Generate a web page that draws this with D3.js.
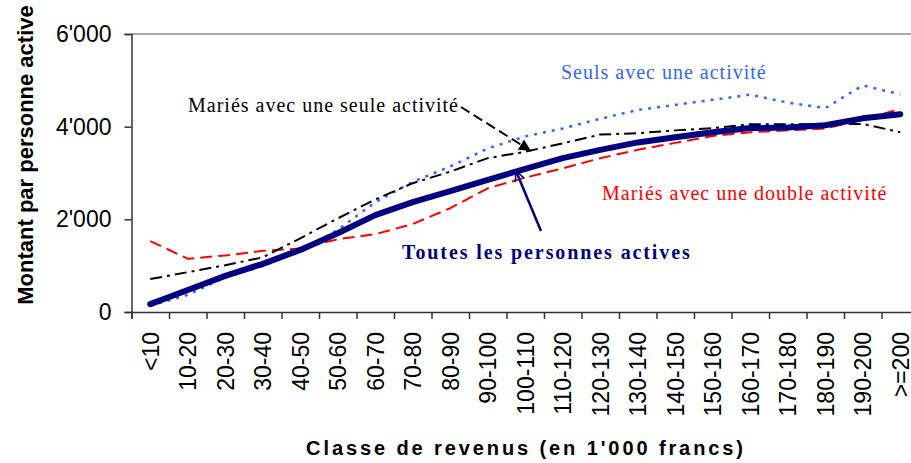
<!DOCTYPE html>
<html>
<head>
<meta charset="utf-8">
<script src="https://cdn.jsdelivr.net/npm/d3@7"></script>
<style>
  body { margin: 0; background: #fff; }
  svg { display: block; }
</style>
</head>
<body>
<svg id="chart" width="911" height="463"></svg>
<script>
// income classes (1'000 francs)
const categories = ["<10", "10-20", "20-30", "30-40", "40-50", "50-60", "60-70", "70-80", "80-90", "90-100",
    "100-110", "110-120", "120-130", "130-140", "140-150", "150-160", "160-170", "170-180", "180-190", "190-200", ">=200"];

// amounts per active person
const toutes = [170, 475, 780, 1040, 1340, 1700, 2090, 2370, 2610, 2850, 3090, 3320, 3500, 3660, 3770, 3880, 3970, 3980, 4030, 4180, 4270];
const mariesDouble = [1530, 1150, 1220, 1320, 1370, 1570, 1680, 1900, 2240, 2670, 2900, 3100, 3320, 3500, 3650, 3800, 3880, 3920, 3960, 4150, 4380];
const mariesSeule = [710, 860, 1010, 1180, 1590, 2020, 2430, 2780, 3030, 3320, 3460, 3640, 3830, 3860, 3920, 3970, 4050, 4050, 4050, 4060, 3880];
const seuls = [130, 370, 750, 990, 1320, 1770, 2370, 2810, 3140, 3530, 3790, 3960, 4170, 4360, 4470, 4580, 4690, 4520, 4400, 4890, 4700];

const yTicks = [0, 2000, 4000, 6000];

const sans = "'Liberation Sans', Arial, sans-serif";
const serif = "'Liberation Serif', 'Times New Roman', serif";

const svg = d3.select("#chart");
const plot = {left: 131.5, right: 919, top: 34, bottom: 312};

const x = d3.scaleBand().domain(categories).range([plot.left, plot.right]);
const xEdges = d3.scaleLinear().domain([0, categories.length]).range([plot.left, plot.right]);
const y = d3.scaleLinear().domain([0, 6000]).range([plot.bottom, plot.top]);

const fmt = v => d3.format(",")(v).replace(/,/g, "'");

// plot area top border
svg.append("line")
    .attr("x1", plot.left).attr("x2", plot.right)
    .attr("y1", plot.top).attr("y2", plot.top)
    .attr("stroke", "#8c8c8c").attr("stroke-width", 1.5);

// y axis
const yAxis = svg.append("g")
    .attr("transform", `translate(${plot.left},0)`)
    .call(d3.axisLeft(y).tickValues(yTicks).tickFormat(fmt).tickSize(7).tickPadding(13));
yAxis.selectAll("text")
    .style("font-family", sans).style("font-size", "23px").attr("fill", "#000");
yAxis.selectAll("line, path").attr("stroke", "#333").attr("stroke-width", 1.5);

// x axis: labels at the class centers
const xAxis = svg.append("g")
    .attr("transform", `translate(0,${plot.bottom})`)
    .call(d3.axisBottom(x).tickSize(0).tickPadding(0));
xAxis.select("path").remove();
xAxis.selectAll("text")
    .attr("transform", "rotate(-90)")
    .attr("x", -20).attr("y", 0).attr("dy", "0.36em")
    .style("text-anchor", "end")
    .style("font-family", sans).style("font-size", "23px").attr("fill", "#000");

// x axis: ticks on the class boundaries
const xTickAxis = svg.append("g")
    .attr("transform", `translate(0,${plot.bottom})`)
    .call(d3.axisBottom(xEdges).ticks(categories.length).tickSize(7).tickFormat(""));
xTickAxis.selectAll("line, path").attr("stroke", "#333").attr("stroke-width", 1.5);

// series
const line = d3.line()
    .x((d, i) => x(categories[i]) + x.bandwidth() / 2)
    .y(d => y(d));

const series = [
    {values: seuls, color: "#3366ff", width: 2.5, dash: "3,6"},
    {values: mariesDouble, color: "#ff0000", width: 2, dash: "12,6"},
    {values: mariesSeule, color: "#000000", width: 2, dash: "12,5,3,5"},
    {values: toutes, color: "#000080", width: 6, dash: null}
];

series.forEach(s => {
    svg.append("path")
        .datum(s.values)
        .attr("d", line)
        .attr("fill", "none")
        .attr("stroke", s.color)
        .attr("stroke-width", s.width)
        .attr("stroke-linejoin", "round")
        .attr("stroke-linecap", s.dash ? "butt" : "round")
        .attr("stroke-dasharray", s.dash);
});

// arrows
const defs = svg.append("defs");
defs.append("marker")
    .attr("id", "headBlack")
    .attr("viewBox", "0 0 10 10").attr("refX", 10).attr("refY", 5)
    .attr("markerWidth", 6).attr("markerHeight", 6).attr("orient", "auto")
    .attr("markerUnits", "strokeWidth")
    .append("path").attr("d", "M0,0L10,5L0,10Z").attr("fill", "#000");
defs.append("marker")
    .attr("id", "headNavy")
    .attr("viewBox", "0 0 10 10").attr("refX", 9).attr("refY", 5)
    .attr("markerWidth", 5).attr("markerHeight", 5).attr("orient", "auto")
    .attr("markerUnits", "strokeWidth")
    .append("path").attr("d", "M1,1L9,5L1,9").attr("fill", "none")
    .attr("stroke", "#000080").attr("stroke-width", 1.2);

svg.append("line")
    .attr("x1", 461).attr("y1", 107).attr("x2", 531).attr("y2", 151)
    .attr("stroke", "#000").attr("stroke-width", 2)
    .attr("stroke-dasharray", "10,5")
    .attr("marker-end", "url(#headBlack)");

svg.append("line")
    .attr("x1", 541).attr("y1", 231).attr("x2", 516).attr("y2", 171)
    .attr("stroke", "#000080").attr("stroke-width", 2.5)
    .attr("marker-end", "url(#headNavy)");

// annotations
const notes = [
    {text: "Mariés avec une seule activité", x: 188, y: 112, color: "#000", bold: false, ls: 1},
    {text: "Seuls avec une activité", x: 561, y: 79, color: "#3366ff", bold: false, ls: 1},
    {text: "Mariés avec une double activité", x: 602, y: 200, color: "#ff0000", bold: false, ls: 1},
    {text: "Toutes les personnes actives", x: 402, y: 259, color: "#000080", bold: true, ls: 1.9}
];
notes.forEach(n => {
    svg.append("text")
        .attr("x", n.x).attr("y", n.y)
        .attr("fill", n.color)
        .style("font-family", serif)
        .style("font-size", "20px")
        .style("font-weight", n.bold ? "bold" : "normal")
        .style("letter-spacing", n.ls + "px")
        .text(n.text);
});

// axis titles
svg.append("text")
    .attr("transform", "translate(33,155) rotate(-90)")
    .attr("text-anchor", "middle")
    .style("font-family", sans).style("font-size", "22px").style("font-weight", "bold")
    .text("Montant par personne active");

svg.append("text")
    .attr("x", 526).attr("y", 455)
    .attr("text-anchor", "middle")
    .style("font-family", sans).style("font-size", "20px").style("font-weight", "bold")
    .style("letter-spacing", "2.9px")
    .text("Classe de revenus (en 1'000 francs)");
</script>
</body>
</html>
